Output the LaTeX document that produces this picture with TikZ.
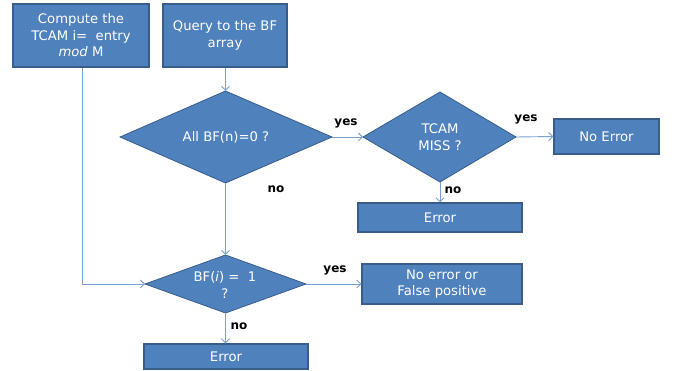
\documentclass[tikz,border=0pt]{standalone}
\usepackage{fontspec}
\setmainfont{DejaVu Sans}
\usetikzlibrary{arrows.meta,shapes.geometric}
\definecolor{boxfill}{HTML}{4F81BD}
\definecolor{boxline}{HTML}{385D8A}
\definecolor{conn}{HTML}{7AA0D0}
\begin{document}
\begin{tikzpicture}[x=1pt,y=-1pt,
  box/.style={draw=boxline,line width=1.3pt,fill=boxfill,text=white,inner sep=0pt,
    font=\fontsize{13.2}{16.5}\selectfont,align=center},
  dia/.style={draw=boxline,line width=0.8pt,fill=boxfill},
  dtext/.style={text=white,inner sep=0pt,font=\fontsize{13.2}{16.5}\selectfont,align=center},
  conn/.style={draw=conn,line width=0.9pt,-{Straight Barb[length=4pt,width=8pt]}},
  lbl/.style={font=\fontsize{12}{13}\selectfont\bfseries,text=black,inner sep=0pt}]
\useasboundingbox (0,0) rectangle (673,371);
% boxes
\node[box,minimum width=136pt,minimum height=63pt] (b1) at (81,35.5) {Compute the\\TCAM i=\ \ entry\\\textit{mod} M};
\node[box,minimum width=124pt,minimum height=63pt] (b2) at (225,35.5) {Query to the BF\\array};
% diamond 1
\path[dia] (120,137) -- (225.5,91) -- (332,137) -- (225.5,183) -- cycle;
\node[dtext] (d1) at (226,137) {All BF(n)=0 ?};
\coordinate (d1t) at (225.5,91);
\coordinate (d1r) at (332,137);
\coordinate (d1b) at (225.5,183);
% diamond 2
\path[dia] (363,137) -- (440,92) -- (516,137) -- (440,182) -- cycle;
\node[dtext] (d2) at (440,137) {TCAM\\MISS ?};
\coordinate (d2l) at (363,137);
\coordinate (d2r) at (516,137);
\coordinate (d2b) at (440,182);
% diamond 3
\path[dia] (145,284) -- (225.5,255) -- (306,284) -- (225.5,313) -- cycle;
\node[dtext,font=\fontsize{13.2}{17.5}\selectfont] (d3) at (225,285) {BF(\textit{i}) =\ \ 1\\?};
\coordinate (d3l) at (145,284);
\coordinate (d3t) at (225.5,255);
\coordinate (d3r) at (306,284);
\coordinate (d3b) at (225.5,313);
% result boxes
\node[box,minimum width=105pt,minimum height=35pt] (noerr) at (606.5,136.5) {No Error};
\node[box,minimum width=164pt,minimum height=29pt] (err1) at (440,217.5) {Error};
\node[box,minimum width=160pt,minimum height=40pt] (nefp) at (442,284) {No error or\\False positive};
\node[box,minimum width=164pt,minimum height=25pt] (err2) at (226,356.5) {Error};
% connectors
\draw[conn] (b2.south -| d1t) -- (d1t);
\draw[conn] (d1r) -- (d2l);
\draw[conn] (d2r) -- (noerr.west);
\draw[conn] (d2b) -- (err1.north -| d2b);
\draw[conn] (d1b) -- (d3t);
\coordinate (corner) at (82,284);
\draw[conn] (b1.south -| corner) -- (corner) -- (d3l);
\draw[conn] (d3r) -- (nefp.west);
\draw[conn] (d3b) -- (err2.north -| d3b);
% labels
\node[lbl] (y1) at (346,123) {yes};
\node[lbl] (n1) at (276,189) {no};
\node[lbl] (y2) at (526,119) {yes};
\node[lbl] (n2) at (453,190) {no};
\node[lbl] (y3) at (335,270) {yes};
\node[lbl] (n3) at (239,326) {no};
\end{tikzpicture}
\end{document}
